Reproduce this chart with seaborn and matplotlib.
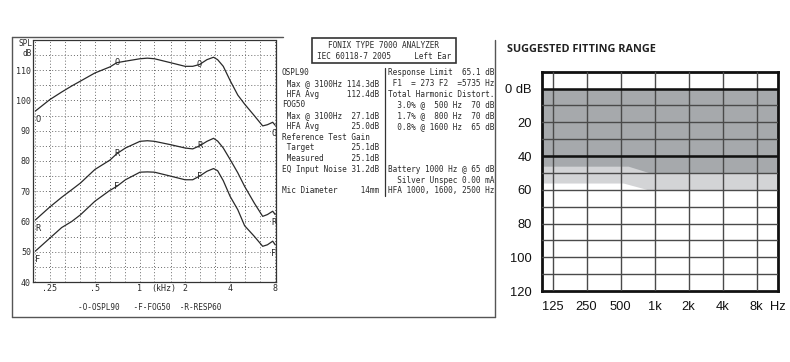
import numpy as np
import pandas as pd
import matplotlib
matplotlib.use("Agg")
import matplotlib.pyplot as plt
import seaborn as sns
from matplotlib.patches import Rectangle
from matplotlib.lines import Line2D
from matplotlib.ticker import NullFormatter

# ---------------- data: left analyzer chart ----------------
freq_khz = [0.2, 0.25, 0.3, 0.35, 0.4, 0.5, 0.63, 0.7, 0.8, 1.0, 1.12, 1.25, 1.6, 2.0,
            2.25, 2.5, 2.8, 3.1, 3.3, 3.6, 4.0, 4.5, 5.0, 5.8, 6.6, 7.1, 7.7, 8.0]
ospl90 = [96.5, 100.3, 102.8, 104.8, 106.4, 109.1, 111.1, 112.5, 113.0, 113.8, 114.0, 113.8,
          112.5, 111.3, 111.3, 111.9, 113.5, 114.3, 113.5, 111.3, 106.6, 101.8, 98.8, 95.0,
          91.6, 92.0, 92.8, 91.8]
resp60 = [60.5, 64.8, 68.0, 70.5, 72.7, 77.2, 80.3, 82.4, 84.3, 86.5, 86.7, 86.5, 85.4, 84.3,
          84.0, 85.0, 86.5, 87.5, 86.6, 84.3, 80.5, 76.1, 71.6, 66.1, 61.7, 62.3, 63.4, 62.3]
fog50 = [50.2, 54.5, 58.0, 60.0, 62.2, 66.7, 70.3, 71.6, 73.8, 76.3, 76.4, 76.3, 75.0, 73.8,
         73.8, 75.0, 76.6, 77.5, 76.8, 73.5, 68.3, 63.9, 58.6, 55.1, 51.8, 52.3, 53.5, 52.3]
curve_names = ["OSPL90", "FOG50", "RESP60"]
curve_letters = ["O", "F", "R"]
letter_freqs = [0.2, 0.7, 2.5, 8.0]
x_tick_khz = [0.25, 0.5, 1, 2, 4, 8]
x_tick_labels = [".25", ".5", "1", "2", "4", "8"]
third_oct_khz = [0.2, 0.25, 0.315, 0.4, 0.5, 0.63, 0.8, 1, 1.25, 1.6, 2, 2.5, 3.15, 4, 5, 6.3, 8]
y_ticks_spl = [40, 50, 60, 70, 80, 90, 100, 110]

# ---------------- data: right fitting range ----------------
aud_freq_hz = [125, 250, 500, 1000, 2000, 4000, 8000]
aud_labels = ["125", "250", "500", "1k", "2k", "4k", "8k"]
aud_db_ticks = [0, 20, 40, 60, 80, 100, 120]
aud_db_labels = ["0 dB", "20", "40", "60", "80", "100", "120"]
dark_hz = [100, 584, 909, 12400]
dark_db = [46, 46, 50, 50]
light_hz = [100, 528, 879, 12400]
light_db = [56, 56, 60, 60]

W, H = 790, 362
sns.set_theme(style="white")
plt.rcParams["font.family"] = ["DejaVu Sans"]
fig = plt.figure(figsize=(W / 100, H / 100), dpi=100)
fig.patch.set_facecolor("white")


def fx(px):
    return px / W


def fy(py):
    return 1 - py / H


MONO = "DejaVu Sans Mono"
FS = 5.6
INK = "#2a2a2a"

# ---------------- left chart ----------------
axL = fig.add_axes([fx(33), fy(282), fx(276) - fx(33), fy(40) - fy(282)])
df = pd.DataFrame({"freq": freq_khz * 3,
                   "spl": ospl90 + fog50 + resp60,
                   "curve": [curve_names[0]] * len(freq_khz) + [curve_names[1]] * len(freq_khz)
                   + [curve_names[2]] * len(freq_khz)})
sns.lineplot(data=df, x="freq", y="spl", units="curve", estimator=None, color=INK,
             lw=0.9, ax=axL, legend=False)
axL.set_xscale("log")
axL.set_xlim(0.193, 8.1)
axL.set_ylim(40, 120)
axL.set_xlabel("")
axL.set_ylabel("")
axL.set_xticks(x_tick_khz)
axL.set_xticklabels(x_tick_labels, family=MONO, fontsize=FS + 0.4, color=INK)
axL.set_xticks(third_oct_khz, minor=True)
axL.xaxis.set_minor_formatter(NullFormatter())
axL.set_yticks(y_ticks_spl)
axL.set_yticklabels([str(v) for v in y_ticks_spl], family=MONO, fontsize=FS + 0.4, color=INK)
axL.set_yticks(np.arange(45, 120, 10), minor=True)
axL.tick_params(which="both", length=0, pad=1.5)
axL.grid(True, which="both", linestyle=(0, (1, 2.2)), color="#6a6a6a", lw=0.7)
for s in axL.spines.values():
    s.set_linestyle((0, (1, 1)))
    s.set_color("#333333")
    s.set_linewidth(0.9)
    s.set_visible(True)
axL.annotate("(kHz)", (1.45, 40), xytext=(0, -1.5), textcoords="offset points",
             family=MONO, fontsize=FS + 0.4, color=INK, ha="center", va="top",
             annotation_clip=False)
fig.text(fx(32), fy(44), "SPL", family=MONO, fontsize=FS, color=INK, ha="right", va="center")
fig.text(fx(32), fy(54), "dB", family=MONO, fontsize=FS, color=INK, ha="right", va="center")

for vals, letter in zip([ospl90, fog50, resp60], curve_letters):
    for i, f in enumerate(letter_freqs):
        v = np.interp(np.log(f), np.log(freq_khz), vals)
        if i == 0:
            off = (2, -6)
        elif i == len(letter_freqs) - 1:
            off = (-1, -6)
        else:
            off = (0, 0)
        axL.annotate(letter, (f, v), xytext=off, textcoords="offset points", family=MONO,
                     fontsize=FS + 0.6, color=INK, ha="center", va="center",
                     annotation_clip=False)

fig.text(fx(150), fy(307), "-O-OSPL90   -F-FOG50  -R-RESP60", family=MONO, fontsize=FS,
         color=INK, ha="center", va="center")

# outer frame of the analyzer printout
frame_c = "#555555"
for (x0, y0, x1, y1) in [(12, 37, 12, 317), (12, 317, 495, 317), (495, 40, 495, 317),
                         (12, 37, 283, 37)]:
    fig.add_artist(Line2D([fx(x0), fx(x1)], [fy(y0), fy(y1)], color=frame_c, lw=1.0,
                          transform=fig.transFigure))

# title box
fig.add_artist(Rectangle((fx(312), fy(63)), fx(456) - fx(312), fy(38) - fy(63), fill=False,
                         ec="#333333", lw=1.2, transform=fig.transFigure))
fig.text(fx(384), fy(45.5), "FONIX TYPE 7000 ANALYZER", family=MONO, fontsize=FS, color=INK,
         ha="center", va="center")
fig.text(fx(384), fy(56.5), "IEC 60118-7 2005     Left Ear", family=MONO, fontsize=FS,
         color=INK, ha="center", va="center")

left_lines = ["OSPL90",
              " Max @ 3100Hz 114.3dB",
              " HFA Avg      112.4dB",
              "FOG50",
              " Max @ 3100Hz  27.1dB",
              " HFA Avg       25.0dB",
              "Reference Test Gain",
              " Target        25.1dB",
              " Measured      25.1dB",
              "EQ Input Noise 31.2dB",
              "",
              "Mic Diameter     14mm"]
right_lines = ["Response Limit  65.1 dB",
               " F1  = 273 F2  =5735 Hz",
               "Total Harmonic Distort.",
               "  3.0% @  500 Hz  70 dB",
               "  1.7% @  800 Hz  70 dB",
               "  0.8% @ 1600 Hz  65 dB",
               "", "", "",
               "Battery 1000 Hz @ 65 dB",
               "  Silver Unspec 0.00 mA",
               "HFA 1000, 1600, 2500 Hz"]
line_h = 10.75
for i, t in enumerate(left_lines):
    fig.text(fx(282), fy(72.7 + i * line_h), t, family=MONO, fontsize=FS, color=INK,
             ha="left", va="center")
for i, t in enumerate(right_lines):
    fig.text(fx(387.5), fy(72.7 + i * line_h), t, family=MONO, fontsize=FS, color=INK,
             ha="left", va="center")
fig.add_artist(Line2D([fx(385.3), fx(385.3)], [fy(68), fy(196)], color="#333333", lw=0.9,
                      transform=fig.transFigure))

# ---------------- right chart ----------------
axR = fig.add_axes([fx(541.7), fy(291), fx(778) - fx(541.7), fy(71.7) - fy(291)])
axR.set_xscale("log")
axR.set_xlim(100, 12400)
axR.set_ylim(120, -10)
xx = np.geomspace(100, 12400, 400)
light_b = np.interp(np.log(xx), np.log(light_hz), light_db)
dark_b = np.interp(np.log(xx), np.log(dark_hz), dark_db)
axR.fill_between(xx, 0, light_b, color="#d3d4d6", lw=0, zorder=1)
axR.fill_between(xx, 0, dark_b, color="#a6a9ac", lw=0, zorder=1.1)
axR.set_xticks(aud_freq_hz)
axR.set_xticklabels(aud_labels, family="Liberation Sans", fontsize=9.3, color="#111111")
axR.xaxis.set_minor_formatter(NullFormatter())
axR.set_xticks([], minor=True)
axR.set_yticks(aud_db_ticks)
axR.set_yticklabels(aud_db_labels, family="Liberation Sans", fontsize=9.3, color="#111111")
axR.set_yticks(np.arange(10, 120, 20), minor=True)
axR.tick_params(which="both", length=0)
axR.tick_params(axis="x", pad=7)
axR.tick_params(axis="y", pad=7)
axR.grid(True, which="both", color="#4a4a4a", lw=1.0, zorder=2)
axR.set_axisbelow(False)
for v in [0, 40]:
    axR.axhline(v, color="#111111", lw=1.8, zorder=3)
for s in axR.spines.values():
    s.set_visible(True)
    s.set_color("#111111")
    s.set_linewidth(2.0)
axR.annotate("Hz", (1.0, 0.0), xycoords="axes fraction", xytext=(0, -7),
             textcoords="offset points", family="Liberation Sans", fontsize=9.3,
             color="#111111", ha="center", va="top")
fig.text(fx(507), fy(49), "SUGGESTED FITTING RANGE", family="Open Sans", weight="bold",
         fontsize=7.8, color="#222222", ha="left", va="center")

fig.savefig("out.png", dpi=100, facecolor="white")
